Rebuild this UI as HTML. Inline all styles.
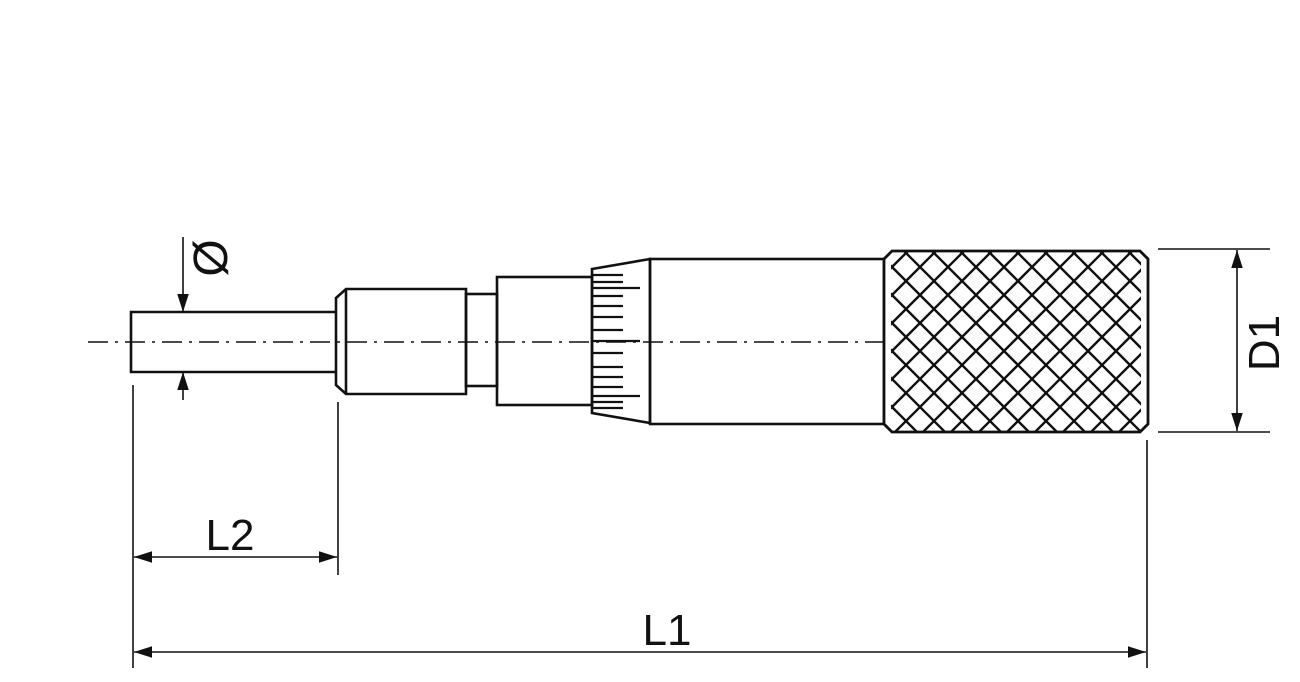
<!DOCTYPE html>
<html><head><meta charset="utf-8"><style>html,body{margin:0;padding:0;background:#fff}svg{display:block}</style></head>
<body>
<svg width="1300" height="682" viewBox="0 0 1300 682" xmlns="http://www.w3.org/2000/svg">
<defs>
<clipPath id="kc"><polygon points="892,251 1140,251 1148,259 1148,424 1140,432 892,432 884,424 884,259"/></clipPath>
<marker id="ar" viewBox="0 0 10 10" refX="10" refY="5" markerWidth="18" markerHeight="18" markerUnits="userSpaceOnUse" orient="auto"><path d="M0,1.8 L10,5 L0,8.2 z" fill="#111"/></marker>
</defs>
<g stroke="#111" stroke-width="2.6" fill="none">
<line x1="88" y1="342" x2="885" y2="342" stroke-width="1.4" stroke-dasharray="20,7,3,7"/>
<polyline points="336,312 131,312 131,372 336,372"/>
<polygon points="336,298 346,289 466,289 466,394 346,394 336,385"/>
<line x1="346" y1="289" x2="346" y2="394"/>
<rect x="466" y="294" width="31" height="92"/>
<rect x="497" y="277" width="95" height="128"/>
<polygon points="592,269 650,259 650,423 592,413"/>
<rect x="650" y="259" width="234" height="165"/>
</g>
<g stroke="#111" stroke-width="2.2">
<line x1="592" y1="275" x2="623" y2="275"/><line x1="592" y1="282" x2="623" y2="282"/>
<line x1="592" y1="288" x2="640" y2="288"/><line x1="592" y1="296" x2="623" y2="296"/>
<line x1="592" y1="306" x2="623" y2="306"/><line x1="592" y1="317" x2="623" y2="317"/>
<line x1="592" y1="330" x2="623" y2="330"/><line x1="592" y1="341" x2="640" y2="341"/>
<line x1="592" y1="353" x2="623" y2="353"/><line x1="592" y1="367" x2="623" y2="367"/>
<line x1="592" y1="377" x2="623" y2="377"/><line x1="592" y1="387" x2="623" y2="387"/>
<line x1="592" y1="396" x2="640" y2="396"/><line x1="592" y1="402" x2="623" y2="402"/>
<line x1="592" y1="408" x2="623" y2="408"/>
</g>
<g clip-path="url(#kc)" stroke="#111" stroke-width="2.4" fill="none">
<path d="M689,232 l220,220 M717,232 l220,220 M745,232 l220,220 M773,232 l220,220 M801,232 l220,220 M829,232 l220,220 M857,232 l220,220 M885,232 l220,220 M913,232 l220,220 M941,232 l220,220 M969,232 l220,220 M997,232 l220,220 M1025,232 l220,220 M1053,232 l220,220 M1081,232 l220,220 M1109,232 l220,220"/>
<path d="M899,232 l-220,220 M927,232 l-220,220 M955,232 l-220,220 M983,232 l-220,220 M1011,232 l-220,220 M1039,232 l-220,220 M1067,232 l-220,220 M1095,232 l-220,220 M1123,232 l-220,220 M1151,232 l-220,220 M1179,232 l-220,220 M1207,232 l-220,220 M1235,232 l-220,220 M1263,232 l-220,220 M1291,232 l-220,220 M1319,232 l-220,220 M1347,232 l-220,220"/>
</g>
<rect x="884" y="251" width="7" height="181" fill="#fff" clip-path="url(#kc)"/>
<rect x="1141" y="251" width="7" height="181" fill="#fff" clip-path="url(#kc)"/>
<polygon points="892,251 1140,251 1148,259 1148,424 1140,432 892,432 884,424 884,259" fill="none" stroke="#111" stroke-width="2.8"/>
<g stroke="#111" stroke-width="1.6" fill="none">
<line x1="183" y1="237" x2="183" y2="312" marker-end="url(#ar)"/>
<line x1="183" y1="400" x2="183" y2="372" marker-end="url(#ar)"/>
<line x1="133" y1="385" x2="133" y2="668"/>
<line x1="338" y1="402" x2="338" y2="575"/>
<line x1="1147" y1="440" x2="1147" y2="668"/>
<line x1="236" y1="557" x2="134" y2="557" marker-end="url(#ar)"/>
<line x1="236" y1="557" x2="337" y2="557" marker-end="url(#ar)"/>
<line x1="640" y1="652" x2="134" y2="652" marker-end="url(#ar)"/>
<line x1="640" y1="652" x2="1146" y2="652" marker-end="url(#ar)"/>
<line x1="1158" y1="249" x2="1270" y2="249"/>
<line x1="1158" y1="432" x2="1270" y2="432"/>
<line x1="1237" y1="340" x2="1237" y2="250" marker-end="url(#ar)"/>
<line x1="1237" y1="340" x2="1237" y2="431" marker-end="url(#ar)"/>
</g>
<g font-family="Liberation Sans, sans-serif" font-size="44" fill="#111">
<text x="230" y="550" text-anchor="middle">L2</text>
<text x="667" y="645" text-anchor="middle">L1</text>
<text transform="translate(1279,343) rotate(-90)" text-anchor="middle">D1</text>
<text transform="translate(227,258) rotate(-90)" text-anchor="middle" font-size="48">Ø</text>
</g>
</svg>
</body></html>
